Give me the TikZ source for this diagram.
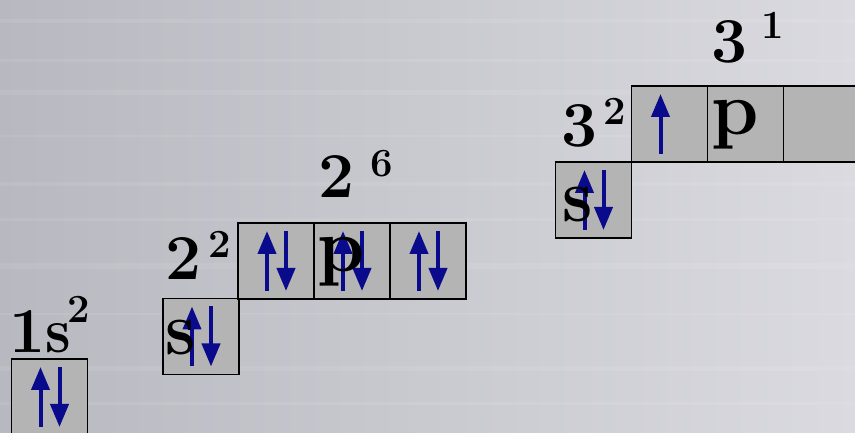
\documentclass[tikz,border=0pt]{standalone}
\usetikzlibrary{arrows.meta,positioning}
\definecolor{spincol}{RGB}{10,10,140}
\definecolor{orbfill}{RGB}{180,180,180}
\definecolor{bgleft}{RGB}{184,184,192}
\definecolor{bgright}{RGB}{218,218,224}
\tikzset{
  orb/.style={draw=black,line width=1.8pt,fill=orbfill,minimum size=76pt,inner sep=0pt,outer sep=0pt},
  spinarrow/.style={draw=spincol,line width=4pt,-{Triangle[width=18pt,length=23pt]}},
  big/.style={anchor=base west,inner sep=0pt,font=\fontsize{64}{64}\selectfont\bfseries},
  sup/.style={anchor=base west,inner sep=0pt,font=\fontsize{40}{40}\selectfont\bfseries},
  letter/.style={anchor=base west,inner sep=0pt,font=\fontsize{76}{76}\selectfont\bfseries}
}
\newcommand{\narrow}[1]{\scalebox{0.9}[1]{#1}}
\newcommand{\spinup}[1]{\draw[spinarrow] ([xshift=-9pt,yshift=8pt]#1.south) -- ([xshift=-9pt,yshift=-8pt]#1.north);}
\newcommand{\spinpair}[1]{\spinup{#1}
  \draw[spinarrow] ([xshift=10pt,yshift=-8pt]#1.north) -- ([xshift=10pt,yshift=8pt]#1.south);}
\begin{document}
\begin{tikzpicture}[x=1pt,y=1pt,node distance=76pt]
  \useasboundingbox (0,0) rectangle (855,433);
  \clip (0,0) rectangle (855,433);
  \shade[left color=bgleft,right color=bgright] (0,0) rectangle (855,433);
  \foreach \y/\w in {28/3,62/5,118/2,164/6,212/3,247/4,296/2,338/5,371/3,410/4}
    \fill[white,opacity=0.08] (0,\y) rectangle (855,\y+\w);

  % boxes
  \node[orb] (s1) at (49.5,36) {};
  \node[orb] (s2) at (201,96.5) {};
  \node[orb] (p2a) at (276,172) {};
  \node[orb] (p2b)[right of=p2a] {};
  \node[orb] (p2c)[right of=p2b] {};
  \node[orb] (s3) at (593.5,233) {};
  \node[orb] (p3a) at (669.5,309) {};
  \node[orb] (p3b)[right of=p3a] {};
  \node[orb] (p3c)[right of=p3b] {};

  % electrons
  \spinpair{s1}
  \spinpair{s2}
  \spinpair{p2a}
  \spinpair{p2b}
  \spinpair{p2c}
  \spinpair{s3}
  \spinup{p3a}

  % labels
  \node[big] (n1) at (9,80) {1\narrow{s}\kern-3pt\raisebox{30pt}{\fontsize{40}{40}\selectfont 2}};
  \node[big] (n2s) at (165,153) {2};
  \node[sup] (e2s) at (208,175) {2};
  \node[big] (n2p) at (318,235) {2};
  \node[sup] (e2p) at (370,256) {6};
  \node[big] (n3s) at (561,286) {3};
  \node[sup] (e3s) at (603,308) {2};
  \node[big] (n3p) at (711,370) {3};
  \node[sup] (e3p) at (761,394) {1};
  \node[letter] (l2s) at (165,78) {\narrow{s}};
  \node[letter] (l2p) at (317,161) {p};
  \node[letter] (l3s) at (562,211) {\narrow{s}};
  \node[letter] (l3p) at (711,298) {p};
\end{tikzpicture}
\end{document}
